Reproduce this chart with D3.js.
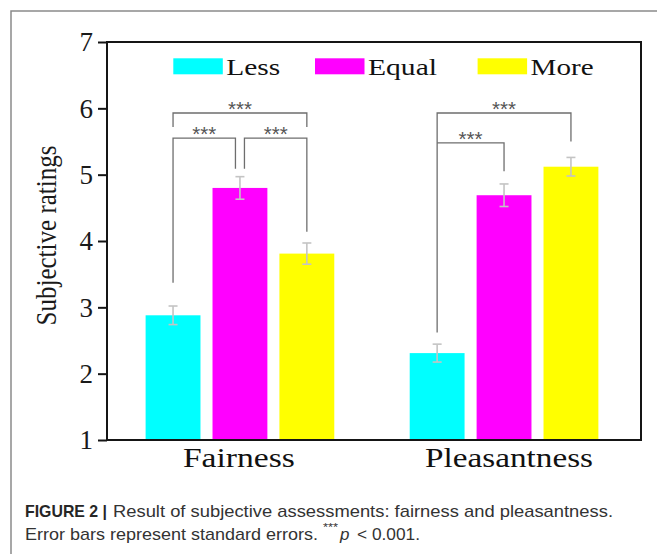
<!DOCTYPE html>
<html>
<head>
<meta charset="utf-8">
<script src="https://cdn.jsdelivr.net/npm/d3@7"></script>
<style>
  html, body { margin: 0; padding: 0; background: #fff; }
  svg { display: block; }
</style>
</head>
<body>
<svg id="chart" width="657" height="554"></svg>
<script>
// ---------------- data ----------------
const groups = ["Fairness", "Pleasantness"];
const conditions = ["Less", "Equal", "More"];
const conditionColors = ["#00FFFF", "#FF00FF", "#FFFF00"];
const meansFairness = [2.88, 4.80, 3.81];
const meansPleasantness = [2.31, 4.69, 5.12];
const seFairness = [0.14, 0.17, 0.16];
const sePleasantness = [0.135, 0.17, 0.14];
const yTicks = [1, 2, 3, 4, 5, 6, 7];
const yTitle = "Subjective ratings";
// significance brackets (levels in rating units)
const sigGroup  = ["Fairness", "Fairness", "Fairness", "Pleasantness", "Pleasantness"];
const sigFrom   = ["Less", "Equal", "Less", "Less", "Less"];
const sigTo     = ["Equal", "More", "More", "More", "Equal"];
const sigLevel  = [5.55, 5.55, 5.93, 5.93, 5.48];
const sigFromEnd = [3.37, 5.09, 5.72, 2.62, 5.48];
const sigToEnd   = [5.09, 4.14, 5.72, 5.50, 5.05];
const sigLabel  = ["***", "***", "***", "***", "***"];
const captionBold = "FIGURE 2 |";
const captionLine1 = "Result of subjective assessments: fairness and pleasantness.";
const captionLine2 = "Error bars represent standard errors.";

const means = { Fairness: meansFairness, Pleasantness: meansPleasantness };
const ses = { Fairness: seFairness, Pleasantness: sePleasantness };

// ---------------- layout ----------------
const svg = d3.select("#chart");
const plot = { left: 107, right: 641, top: 42, bottom: 440 };

const y = d3.scaleLinear().domain([1, 7]).range([plot.bottom, plot.top]);
const x0 = d3.scaleBand().domain(groups).range([plot.left, plot.right])
  .paddingInner(0.24).paddingOuter(0.131).align(0.471);
const x1 = d3.scaleBand().domain(conditions).range([0, x0.bandwidth()])
  .paddingInner(0.18).paddingOuter(0.09);
const color = d3.scaleOrdinal().domain(conditions).range(conditionColors);

// outer figure border
svg.append("path")
  .attr("d", "M11,554 V11 H657")
  .attr("fill", "none").attr("stroke", "#8a8a8a").attr("stroke-width", 1.5);

// bars
const gBars = svg.append("g");
groups.forEach(gname => {
  conditions.forEach((c, i) => {
    gBars.append("rect")
      .attr("x", x0(gname) + x1(c))
      .attr("y", y(means[gname][i]))
      .attr("width", x1.bandwidth())
      .attr("height", y(1) - y(means[gname][i]))
      .attr("fill", color(c));
  });
});

// error bars
const gErr = svg.append("g").attr("stroke", "#c4c4c4").attr("stroke-width", 1.6);
groups.forEach(gname => {
  conditions.forEach((c, i) => {
    const cx = x0(gname) + x1(c) + x1.bandwidth() / 2;
    const m = means[gname][i], s = ses[gname][i];
    gErr.append("line").attr("x1", cx).attr("x2", cx).attr("y1", y(m - s)).attr("y2", y(m + s));
    gErr.append("line").attr("x1", cx - 4.5).attr("x2", cx + 4.5).attr("y1", y(m - s)).attr("y2", y(m - s));
    gErr.append("line").attr("x1", cx - 4.5).attr("x2", cx + 4.5).attr("y1", y(m + s)).attr("y2", y(m + s));
  });
});

// significance brackets
const gSig = svg.append("g");
function legX(gname, cond, role, idx) {
  let cx = x0(gname) + x1(cond) + x1.bandwidth() / 2;
  for (let j = 0; j < sigGroup.length; j++) {
    if (j === idx || sigGroup[j] !== gname || sigLevel[j] !== sigLevel[idx]) continue;
    if (role === "to" && sigFrom[j] === cond) cx -= 4.5;
    if (role === "from" && sigTo[j] === cond) cx += 4.5;
  }
  return cx;
}
sigGroup.forEach((gname, k) => {
  const xa = legX(gname, sigFrom[k], "from", k);
  const xb = legX(gname, sigTo[k], "to", k);
  const yl = y(sigLevel[k]);
  gSig.append("path")
    .attr("d", `M${xa},${y(sigFromEnd[k])} V${yl} H${xb} V${y(sigToEnd[k])}`)
    .attr("fill", "none").attr("stroke", "#6e6e6e").attr("stroke-width", 1.3);
  gSig.append("text")
    .attr("x", (xa + xb) / 2).attr("y", yl + 3)
    .attr("text-anchor", "middle")
    .attr("font-family", "Liberation Sans, Arial, sans-serif")
    .attr("font-size", 20).attr("fill", "#555")
    .attr("textLength", 24).attr("lengthAdjust", "spacingAndGlyphs")
    .text(sigLabel[k]);
});

// plot frame
svg.append("rect")
  .attr("x", plot.left).attr("y", plot.top)
  .attr("width", plot.right - plot.left).attr("height", plot.bottom - plot.top)
  .attr("fill", "none").attr("stroke", "#151515").attr("stroke-width", 2);

// y axis
const yAxis = svg.append("g")
  .attr("transform", `translate(${plot.left},0)`)
  .call(d3.axisLeft(y).tickValues(yTicks).tickFormat(d3.format("d")).tickSize(9).tickPadding(5));
yAxis.select(".domain").remove();
yAxis.selectAll(".tick line").attr("stroke", "#151515").attr("stroke-width", 2);
yAxis.selectAll(".tick text")
  .attr("font-family", "Liberation Serif, Times New Roman, serif")
  .attr("font-size", 27).attr("fill", "#1a1a1a").attr("dy", "0.33em");

// y title
svg.append("text")
  .attr("transform", "translate(55.5,235.5) scale(1.22,1) rotate(-90)")
  .attr("text-anchor", "middle")
  .attr("font-family", "Liberation Serif, Times New Roman, serif")
  .attr("font-size", 24.5).attr("fill", "#1a1a1a")
  .attr("textLength", 180).attr("lengthAdjust", "spacingAndGlyphs")
  .text(yTitle);

// x category labels
const xLabelLen = [112, 168];
const xLabelNudge = [-1, 5];
groups.forEach((gname, i) => {
  svg.append("text")
    .attr("x", x0(gname) + x0.bandwidth() / 2 + xLabelNudge[i])
    .attr("y", 467)
    .attr("text-anchor", "middle")
    .attr("font-family", "Liberation Serif, Times New Roman, serif")
    .attr("font-size", 28).attr("fill", "#111")
    .attr("textLength", xLabelLen[i]).attr("lengthAdjust", "spacingAndGlyphs")
    .text(gname);
});

// legend
const legendX = [173.3, 315, 477.6];
const legendTextLen = [54, 69, 63];
conditions.forEach((c, i) => {
  svg.append("rect")
    .attr("x", legendX[i]).attr("y", 58.3)
    .attr("width", 49.5).attr("height", 16)
    .attr("fill", color(c));
  svg.append("text")
    .attr("x", legendX[i] + 53).attr("y", 74.5)
    .attr("font-family", "Liberation Serif, Times New Roman, serif")
    .attr("font-size", 23).attr("fill", "#111")
    .attr("textLength", legendTextLen[i]).attr("lengthAdjust", "spacingAndGlyphs")
    .text(c);
});

// caption
const capFont = "Liberation Sans, Arial, Helvetica, sans-serif";
svg.append("text")
  .attr("x", 25).attr("y", 517)
  .attr("font-family", capFont).attr("font-size", 17).attr("font-weight", "bold")
  .attr("fill", "#262626")
  .attr("textLength", 82).attr("lengthAdjust", "spacingAndGlyphs")
  .text(captionBold);
svg.append("text")
  .attr("x", 113).attr("y", 517)
  .attr("font-family", capFont).attr("font-size", 17).attr("fill", "#333")
  .attr("textLength", 500).attr("lengthAdjust", "spacingAndGlyphs")
  .text(captionLine1);
svg.append("text")
  .attr("x", 25).attr("y", 540)
  .attr("font-family", capFont).attr("font-size", 17).attr("fill", "#333")
  .attr("textLength", 293).attr("lengthAdjust", "spacingAndGlyphs")
  .text(captionLine2);
svg.append("text")
  .attr("x", 323).attr("y", 531)
  .attr("font-family", capFont).attr("font-size", 11).attr("fill", "#333")
  .attr("textLength", 15).attr("lengthAdjust", "spacingAndGlyphs")
  .text("***");
svg.append("text")
  .attr("x", 340).attr("y", 540)
  .attr("font-family", capFont).attr("font-size", 17).attr("font-style", "italic").attr("fill", "#333")
  .text("p");
svg.append("text")
  .attr("x", 357).attr("y", 540)
  .attr("font-family", capFont).attr("font-size", 17).attr("fill", "#333")
  .attr("textLength", 63).attr("lengthAdjust", "spacingAndGlyphs")
  .text("< 0.001.");
</script>
</body>
</html>
